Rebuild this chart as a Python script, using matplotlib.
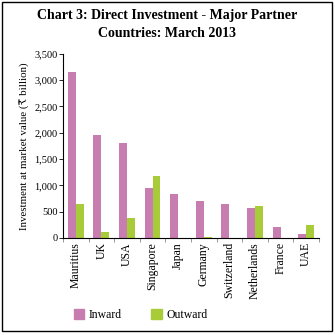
import matplotlib
matplotlib.use("Agg")
import matplotlib.pyplot as plt
import matplotlib.patches as mpatches
from matplotlib.ticker import FuncFormatter, FixedLocator
import numpy as np

# Daten (₹ billion)
countries = ["Mauritius", "UK", "USA", "Singapore", "Japan", "Germany",
             "Switzerland", "Netherlands", "France", "UAE"]
inward = [3155, 1960, 1800, 945, 830, 700, 640, 565, 205, 75]
outward = [640, 120, 380, 1175, 5, 20, 5, 605, 5, 245]

pink = "#c87db0"
green = "#a8cb3a"

plt.rcParams["font.family"] = ["Liberation Serif", "DejaVu Serif", "DejaVu Sans"]

fig = plt.figure(figsize=(3.35, 3.35), dpi=100)
ax = fig.add_axes([0.188, 0.29, 0.764, 0.549])

x = np.arange(len(countries))
w = 0.31
ax.bar(x - w / 2, inward, w, color=pink, label="Inward")
ax.bar(x + w / 2, outward, w, color=green, label="Outward")

ax.set_xlim(-0.5, len(countries) - 0.5)
ax.set_ylim(0, 3500)
ax.set_yticks(range(0, 3501, 500))
ax.yaxis.set_major_formatter(FuncFormatter(lambda v, p: f"{int(v):,}"))
ax.set_xticks(x)
ax.set_xticklabels(countries, rotation=90, fontsize=8.5)
ax.tick_params(axis="x", length=0, pad=3)
ax.xaxis.set_minor_locator(FixedLocator(np.arange(-0.5, len(countries), 1)))
ax.tick_params(axis="x", which="minor", length=3, width=0.6, color="#888888")
ax.tick_params(axis="y", labelsize=7.5, length=3, width=0.6, pad=1)

for s in ["top", "right"]:
    ax.spines[s].set_visible(False)
ax.spines["left"].set_linewidth(0.8)
ax.spines["bottom"].set_linewidth(0.8)

ax.set_ylabel("Investment at market value (₹ billion)", fontsize=7.8, labelpad=3)

fig.text(0.5, 0.955, "Chart 3: Direct Investment - Major Partner", ha="center",
         va="center", fontsize=10, fontweight="bold")
fig.text(0.5, 0.9, "Countries: March 2013", ha="center", va="center",
         fontsize=10, fontweight="bold")

handles = [mpatches.Patch(color=pink, label="Inward"),
           mpatches.Patch(color=green, label="Outward")]
fig.legend(handles=handles, loc="center", bbox_to_anchor=(0.42, 0.06), ncol=2,
           frameon=False, fontsize=8.5, handlelength=0.9, handleheight=0.9,
           columnspacing=2.5, handletextpad=0.4)

# Rahmen um das ganze Bild
fig.patches.append(mpatches.Rectangle((0.006, 0.012), 0.985, 0.982, transform=fig.transFigure,
                                      fill=False, edgecolor="black", linewidth=1))

fig.savefig("out.png", dpi=100)
